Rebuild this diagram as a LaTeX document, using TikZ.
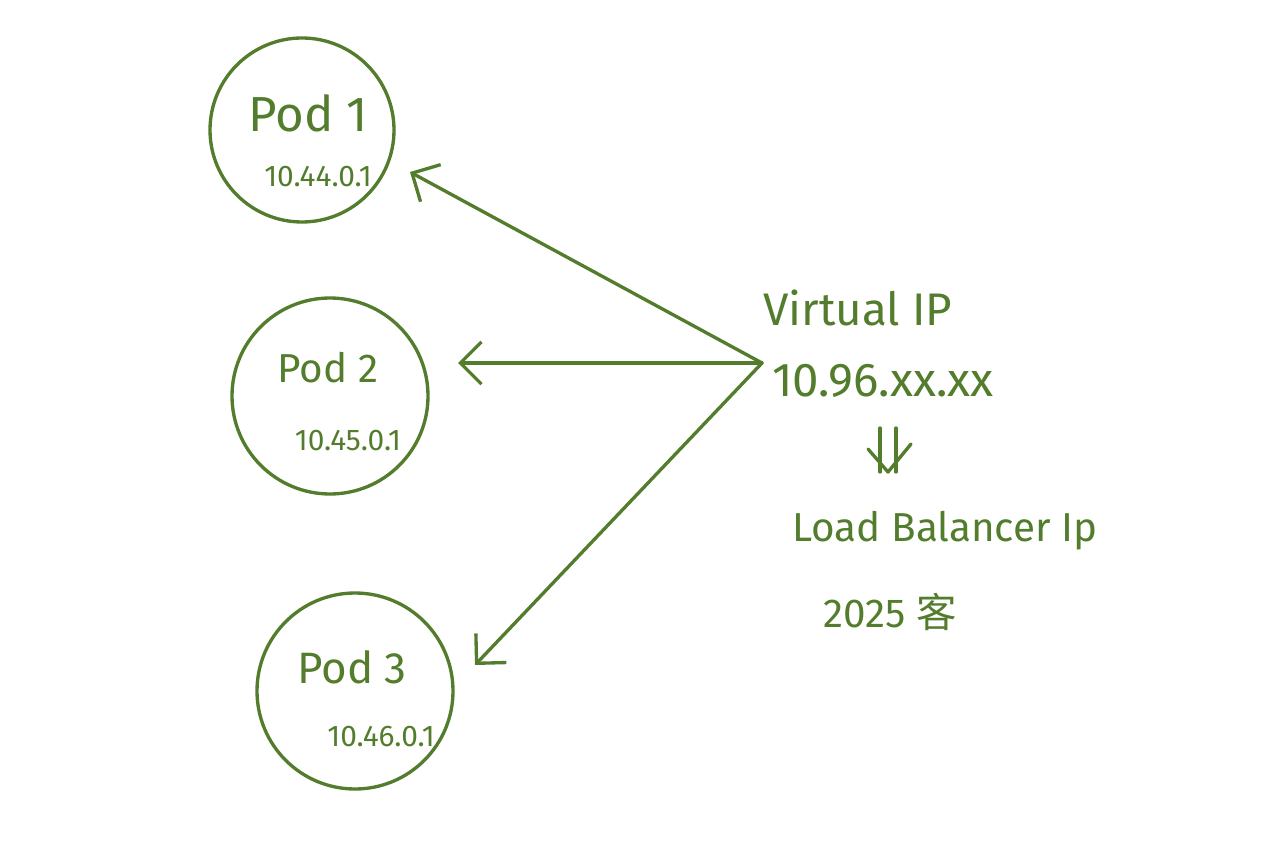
\documentclass[tikz,border=0pt]{standalone}
\usepackage{fontspec}
\setmainfont{Fira Sans}
\newfontfamily\cjkfont{Noto Sans CJK SC}
\usetikzlibrary{arrows.meta}
\definecolor{ink}{RGB}{83,125,45}
\begin{document}
\begin{tikzpicture}[x=0.02cm,y=-0.02cm,
  ink line/.style={draw=ink,line width=1.9pt,line cap=round,line join=round},
  pod/.style={ink line,circle,inner sep=0pt},
  lbl/.style={text=ink,inner sep=0pt,anchor=center},
  arr/.style={ink line,-{Straight Barb[length=12pt,width=24pt,line width=1.9pt]}}]
\useasboundingbox (0,0) rectangle (1270,844);
% pods
\node[pod,minimum size=184*0.02cm] (pod1) at (302,130) {};
\node[pod,minimum size=196*0.02cm] (pod2) at (330,396) {};
\node[pod,minimum size=196*0.02cm] (pod3) at (355,691) {};
% labels
\node[lbl,font=\fontsize{28}{32}\selectfont] (p1) at (308,113) {Pod 1};
\node[lbl,font=\fontsize{23}{26}\selectfont] (p2) at (328,368) {Pod 2};
\node[lbl,font=\fontsize{25}{28}\selectfont] (p3) at (352,667) {Pod 3};
\node[lbl,font=\fontsize{17}{20}\selectfont] (ip1) at (318,177) {10.44.0.1};
\node[lbl,font=\fontsize{17}{20}\selectfont] (ip2) at (348,441) {10.45.0.1};
\node[lbl,font=\fontsize{17}{20}\selectfont] (ip3) at (381,737) {10.46.0.1};
\node[lbl,font=\fontsize{26}{30}\selectfont] (vip) at (858,308) {Virtual IP};
\node[lbl,font=\fontsize{27}{30}\selectfont] (vipaddr) at (883,381) {10.96.xx.xx};
\node[lbl,font=\fontsize{23}{26}\selectfont] (lb) at (945,531) {Load Balancer Ip};
\node[lbl,font=\fontsize{23}{26}\selectfont] (year) at (890,612) {2025 {\cjkfont 客}};
% double down arrow
\coordinate (da) at (888,428);
\coordinate (db) at (888,472);
\draw[ink line] ([xshift=-8*0.02cm]da) -- ([xshift=-8*0.02cm]db);
\draw[ink line] ([xshift=8*0.02cm]da) -- ([xshift=8*0.02cm]db);
\draw[ink line] (868,449) -- (db) -- (911,444);
% connectors
\coordinate (hub) at (762,363);
\coordinate (t1) at (410,172);
\coordinate (t2) at (458,363);
\coordinate (t3) at (475,665);
\draw[arr] (hub) -- (t1);
\draw[arr] (hub) -- (t2);
\draw[arr] (hub) -- (t3);
\end{tikzpicture}
\end{document}
